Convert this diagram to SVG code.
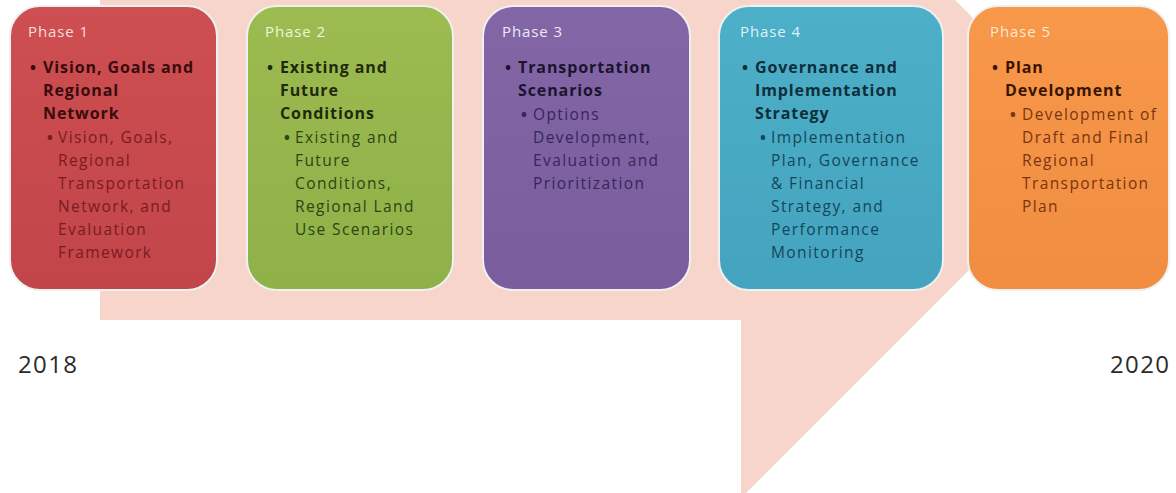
<svg xmlns="http://www.w3.org/2000/svg" width="1176" height="493" viewBox="0 0 1176 493">
  <style>
    .phase { font-family: "Open Sans", Lato, sans-serif; font-size: 15px; letter-spacing: 0.9px; }
    .head { font-family: "Open Sans", Lato, sans-serif; font-size: 16px; font-weight: bold; letter-spacing: 0.9px; }
    .sub { font-family: "Open Sans", Lato, sans-serif; font-size: 15.5px; letter-spacing: 1.4px; }
    .dot { letter-spacing: 0; font-weight: bold; }
    .year { font-family: "Open Sans", Lato, sans-serif; font-size: 24px; letter-spacing: 1.4px; fill: #2b2b2b; }
    .box { stroke: #eef1f1; stroke-width: 2; }
  </style>
  <defs>
    <linearGradient id="gRed" x1="0" y1="0" x2="0" y2="1">
      <stop offset="0" stop-color="#cd4f51"/><stop offset="1" stop-color="#c2454a"/>
    </linearGradient>
    <linearGradient id="gGreen" x1="0" y1="0" x2="0" y2="1">
      <stop offset="0" stop-color="#9cbb51"/><stop offset="1" stop-color="#8fb148"/>
    </linearGradient>
    <linearGradient id="gPurple" x1="0" y1="0" x2="0" y2="1">
      <stop offset="0" stop-color="#8366a6"/><stop offset="1" stop-color="#7a5d9c"/>
    </linearGradient>
    <linearGradient id="gTeal" x1="0" y1="0" x2="0" y2="1">
      <stop offset="0" stop-color="#4eafc8"/><stop offset="1" stop-color="#44a4bf"/>
    </linearGradient>
    <linearGradient id="gOrange" x1="0" y1="0" x2="0" y2="1">
      <stop offset="0" stop-color="#f8984a"/><stop offset="1" stop-color="#f08d40"/>
    </linearGradient>
  </defs>

  <rect width="1176" height="493" fill="#ffffff"/>

  <!-- background callout band -->
  <polygon points="100,-20 935,-20 995,40 995,244 741,498 741,320 100,320" fill="#f7d5ca"/>

  <!-- Phase 1 -->
  <g id="phase1">
    <rect class="box" x="10" y="6" width="207" height="284" rx="30" fill="url(#gRed)"/>
    <text class="phase" x="28" y="37" fill="#f6dcdb">Phase 1</text>
    <text class="head" fill="#3a0b0d">
      <tspan class="dot" x="30" y="73">•</tspan>
      <tspan x="43" y="73">Vision, Goals and</tspan>
      <tspan x="43" y="96">Regional</tspan>
      <tspan x="43" y="119">Network</tspan>
    </text>
    <text class="sub" fill="#7a1b1f">
      <tspan class="dot" x="47" y="143">•</tspan>
      <tspan x="58" y="143">Vision, Goals,</tspan>
      <tspan x="58" y="166">Regional</tspan>
      <tspan x="58" y="189">Transportation</tspan>
      <tspan x="58" y="212">Network, and</tspan>
      <tspan x="58" y="235">Evaluation</tspan>
      <tspan x="58" y="258">Framework</tspan>
    </text>
  </g>

  <!-- Phase 2 -->
  <g id="phase2">
    <rect class="box" x="247" y="6" width="206" height="284" rx="30" fill="url(#gGreen)"/>
    <text class="phase" x="265" y="37" fill="#eef5da">Phase 2</text>
    <text class="head" fill="#1f2a0b">
      <tspan class="dot" x="267" y="73">•</tspan>
      <tspan x="280" y="73">Existing and</tspan>
      <tspan x="280" y="96">Future</tspan>
      <tspan x="280" y="119">Conditions</tspan>
    </text>
    <text class="sub" fill="#2d4511">
      <tspan class="dot" x="284" y="143">•</tspan>
      <tspan x="295" y="143">Existing and</tspan>
      <tspan x="295" y="166">Future</tspan>
      <tspan x="295" y="189">Conditions,</tspan>
      <tspan x="295" y="212">Regional Land</tspan>
      <tspan x="295" y="235">Use Scenarios</tspan>
    </text>
  </g>

  <!-- Phase 3 -->
  <g id="phase3">
    <rect class="box" x="483" y="6" width="207" height="284" rx="30" fill="url(#gPurple)"/>
    <text class="phase" x="502" y="37" fill="#efe8f7">Phase 3</text>
    <text class="head" fill="#1c1330">
      <tspan class="dot" x="505" y="73">•</tspan>
      <tspan x="518" y="73">Transportation</tspan>
      <tspan x="518" y="96">Scenarios</tspan>
    </text>
    <text class="sub" fill="#36275a">
      <tspan class="dot" x="521" y="120">•</tspan>
      <tspan x="533" y="120">Options</tspan>
      <tspan x="533" y="143">Development,</tspan>
      <tspan x="533" y="166">Evaluation and</tspan>
      <tspan x="533" y="189">Prioritization</tspan>
    </text>
  </g>

  <!-- Phase 4 -->
  <g id="phase4">
    <rect class="box" x="719" y="6" width="224" height="284" rx="30" fill="url(#gTeal)"/>
    <text class="phase" x="740" y="37" fill="#dcf4fb">Phase 4</text>
    <text class="head" fill="#0d2e3b">
      <tspan class="dot" x="742" y="73">•</tspan>
      <tspan x="755" y="73">Governance and</tspan>
      <tspan x="755" y="96">Implementation</tspan>
      <tspan x="755" y="119">Strategy</tspan>
    </text>
    <text class="sub" fill="#12475b">
      <tspan class="dot" x="760" y="143">•</tspan>
      <tspan x="771" y="143">Implementation</tspan>
      <tspan x="771" y="166">Plan, Governance</tspan>
      <tspan x="771" y="189">&amp; Financial</tspan>
      <tspan x="771" y="212">Strategy, and</tspan>
      <tspan x="771" y="235">Performance</tspan>
      <tspan x="771" y="258">Monitoring</tspan>
    </text>
  </g>

  <!-- Phase 5 -->
  <g id="phase5">
    <rect class="box" x="968" y="6" width="201" height="284" rx="30" fill="url(#gOrange)"/>
    <text class="phase" x="990" y="37" fill="#fde8d4">Phase 5</text>
    <text class="head" fill="#3a1400">
      <tspan class="dot" x="992" y="73">•</tspan>
      <tspan x="1005" y="73">Plan</tspan>
      <tspan x="1005" y="96">Development</tspan>
    </text>
    <text class="sub" fill="#7a3411">
      <tspan class="dot" x="1010" y="120">•</tspan>
      <tspan x="1022" y="120">Development of</tspan>
      <tspan x="1022" y="143">Draft and Final</tspan>
      <tspan x="1022" y="166">Regional</tspan>
      <tspan x="1022" y="189">Transportation</tspan>
      <tspan x="1022" y="212">Plan</tspan>
    </text>
  </g>

  <!-- timeline end labels -->
  <g id="years">
    <text class="year" x="18" y="373">2018</text>
    <text class="year" x="1110" y="373">2020</text>
  </g>

  <!-- no connectors in this chart -->
  <g id="connectors"/>
</svg>
